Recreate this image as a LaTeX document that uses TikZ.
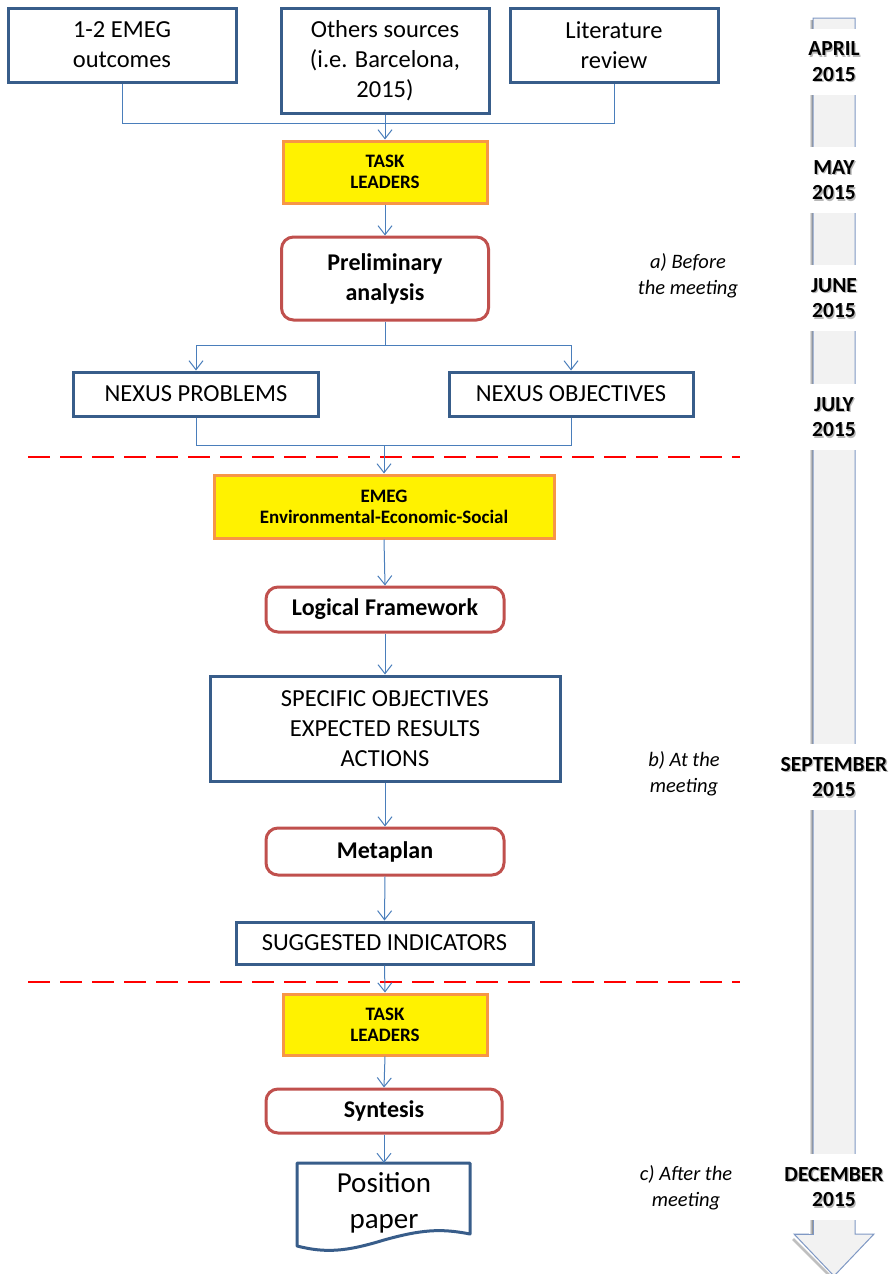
\documentclass[tikz,border=0pt]{standalone}
\usepackage{fontspec}
\setmainfont{Carlito}
\usetikzlibrary{arrows.meta,shadows}
\definecolor{boxblue}{HTML}{385D8A}
\definecolor{boxred}{HTML}{C0504D}
\definecolor{taskorange}{HTML}{F79646}
\definecolor{lineblue}{HTML}{4A7EBB}
\definecolor{tlborder}{HTML}{7F98C4}
\definecolor{tlfill}{HTML}{F2F2F2}
\tikzset{
  bluebox/.style={draw=boxblue, line width=3, fill=white, align=center, inner sep=0,
    font=\fontsize{24.5}{30}\selectfont},
  taskbox/.style={draw=taskorange, line width=3, fill=yellow, align=center, inner sep=0,
    font=\bfseries\fontsize{19}{21}\selectfont},
  redbox/.style={draw=boxred, line width=3, fill=white, rounded corners=12, align=center, inner sep=0,
    font=\bfseries\fontsize{24}{30}\selectfont},
  plainline/.style={draw=lineblue, line width=1},
  conn/.style={draw=lineblue, line width=1, -{Straight Barb[length=9,width=14]}},
  sepline/.style={draw=red, line width=2, dash pattern=on 22 off 10},
  sidelabel/.style={align=center, font=\itshape\fontsize{20.5}{25.5}\selectfont},
  monthbg/.style={fill=white, minimum width=60, minimum height=66, inner sep=0},
  monthtext/.style={align=center, inner sep=0, font=\bfseries\fontsize{21.5}{25.5}\selectfont},
}
\newcommand\monthlab[3]{%
  \node[monthbg] (#1bg) at (834,#2) {};
  \node[monthtext, text=black!28] (#1sh) at (835.3,#2+1.4) {#3};
  \node[monthtext] (#1) at (834,#2) {#3};
}
\begin{document}
\begin{tikzpicture}[x=1pt,y=-1pt]
\useasboundingbox (0,0) rectangle (889,1274);
% timeline arrow
\shade[left color=white, right color=black!55] (809,20) rectangle (813,1236);
\draw[black!25, line width=2.5] (793,1239) -- (833,1279);
\draw[tlborder, fill=tlfill, line width=1] (813,18) -- (855,18) -- (855,1234) -- (874,1234)
  -- (834,1276) -- (794,1234) -- (813,1234) -- cycle;
\shade[left color=white, right color=black!55] (809,1212) rectangle (813,1234);
\draw[tlborder, line width=1] (813,1212) -- (813,1234) -- (794,1234);
\monthlab{apr}{61.5}{APRIL\\2015}
\monthlab{may}{180}{MAY\\2015}
\monthlab{jun}{298}{JUNE\\2015}
\monthlab{jul}{417}{JULY\\2015}
\monthlab{sep}{777}{SEPTEMBER\\2015}
\monthlab{dec}{1187}{DECEMBER\\2015}

% side labels
\node[sidelabel] (la) at (688,276) {a) Before\\the meeting};
\node[sidelabel] (lb) at (684,774) {b) At the\\meeting};
\node[sidelabel] (lc) at (686,1188) {c) After the\\meeting};

% separators
\coordinate (s1a) at (28,457); \coordinate (s1b) at (740,457);
\coordinate (s2a) at (28,982); \coordinate (s2b) at (740,982);
\draw[sepline] (s1a) -- (s1b);
\draw[sepline] (s2a) -- (s2b);

% boxes
\node[bluebox, minimum width=228, minimum height=74] (b1) at (122,45) {1-2 EMEG\\outcomes};
\node[bluebox, minimum width=208, minimum height=105] (b2) at (385,60.5) {Others sources\\(i.e. Barcelona,\\2015)};
\node[bluebox, minimum width=208, minimum height=74] (b3) at (614,45) {Literature\\review};
\node[taskbox, minimum width=204, minimum height=62] (t1) at (385,172) {TASK\\LEADERS};
\node[redbox, minimum width=207, minimum height=83] (pre) at (385,278.5) {Preliminary\\analysis};
\node[bluebox, minimum width=245, minimum height=44] (np) at (196,394) {NEXUS PROBLEMS};
\node[bluebox, minimum width=244, minimum height=44] (no) at (571,394) {NEXUS OBJECTIVES};
\node[taskbox, minimum width=340, minimum height=63] (em) at (384,506.5) {EMEG\\Environmental-Economic-Social};
\node[redbox, minimum width=238, minimum height=45] (lf) at (385,609.5) {Logical Framework};
\node[bluebox, minimum width=350, minimum height=105] (so) at (385,728.5) {SPECIFIC OBJECTIVES\\EXPECTED RESULTS\\ACTIONS};
\node[redbox, minimum width=238, minimum height=47] (mp) at (385,851.5) {Metaplan};
\node[bluebox, minimum width=297, minimum height=42] (si) at (384.5,943) {SUGGESTED INDICATORS};
\node[taskbox, minimum width=204, minimum height=61] (t2) at (385,1024.5) {TASK\\LEADERS};
\node[redbox, minimum width=236, minimum height=44] (sy) at (384,1111) {Syntesis};
% position paper document shape
\draw[boxblue, line width=3, fill=white, line join=round] (297,1163) -- (470,1163) -- (470,1234)
  .. controls (440,1228) and (420,1230) .. (384,1240)
  .. controls (345,1252) and (325,1253) .. (297,1246) -- cycle;
\node[align=center, inner sep=0, minimum width=173, minimum height=80, anchor=north,
  font=\fontsize{29}{36}\selectfont] (pp) at (384,1163) {Position\\paper};

% connectors
\coordinate (m1) at (385,123);
\draw[plainline] (b1.south) |- (m1);
\draw[plainline] (b3.south) |- (m1);
\draw[conn] (b2.south) -- (t1.north);
\draw[conn] (t1.south) -- (pre.north);
\coordinate (br) at (385,345);
\draw[plainline] (pre.south) -- (br);
\draw[conn] (br) -| (np.north);
\draw[conn] (br) -| (no.north);
\coordinate (m2) at (384,445);
\draw[plainline] (np.south) |- (m2);
\draw[plainline] (no.south) |- (m2);
\draw[conn] (m2) -- (em.north);
\draw[conn] (em.south) -- (lf.north);
\draw[conn] (lf.south) -- (so.north);
\draw[conn] (so.south) -- (mp.north);
\draw[conn] (mp.south) -- (si.north);
\draw[conn] (si.south) -- (t2.north);
\draw[conn] (t2.south) -- (sy.north);
\draw[conn] (sy.south) -- (pp.north);
\end{tikzpicture}
\end{document}
